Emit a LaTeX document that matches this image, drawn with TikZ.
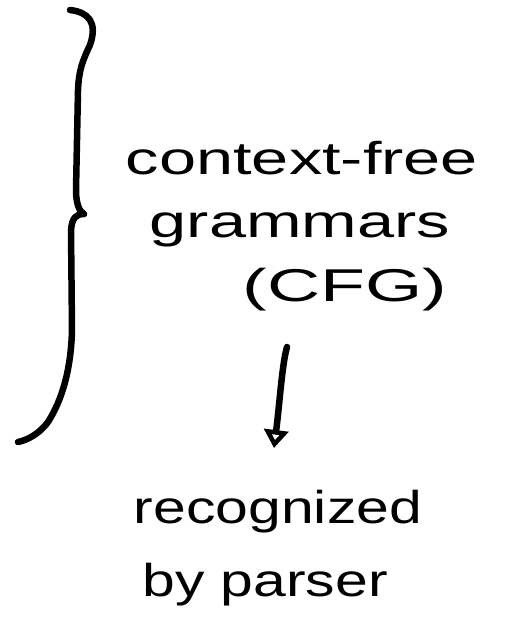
\documentclass[tikz,border=0pt]{standalone}
\usepackage{fontspec}
\setmainfont{Liberation Sans}
\usetikzlibrary{arrows.meta}
\begin{document}
\begin{tikzpicture}[x=1pt,y=-1pt,
  ink/.style={line width=6.5pt,line cap=round,line join=round},
  hand/.style={font=\fontsize{46}{50}\selectfont,inner sep=0pt,anchor=center}]
\useasboundingbox[fill=white] (0,0) rectangle (506,643);
\draw[ink] (70,10) .. controls (88,12) and (98,22) .. (90,45)
  .. controls (82,62) and (79,70) .. (78,90)
  -- (76,190) .. controls (76,205) and (80,212) .. (84,214)
  .. controls (76,214) and (72,218) .. (71,230)
  -- (72,330) .. controls (71,370) and (62,400) .. (48,422)
  .. controls (40,433) and (28,440) .. (18,442);
\node[hand] (cf) at (302,158) {\scalebox{1.45}[1]{context-free}};
\node[hand] (gr) at (300,230) {\scalebox{1.45}[1]{grammars}};
\node[hand] (cfg) at (345,290) {\scalebox{1.6}[1]{(CFG)}};
\node[hand] (rec) at (278,512) {\scalebox{1.28}[1]{recognized}};
\node[hand] (bp) at (265,585) {\scalebox{1.28}[1]{by parser}};
\coordinate (a1) at (287,347);
\coordinate (a2) at (274,448);
\draw[ink,-{Triangle[open,length=18pt,width=24pt,line width=5pt]}] (a1) .. controls (282,365) and (280,400) .. (a2);
\end{tikzpicture}
\end{document}
